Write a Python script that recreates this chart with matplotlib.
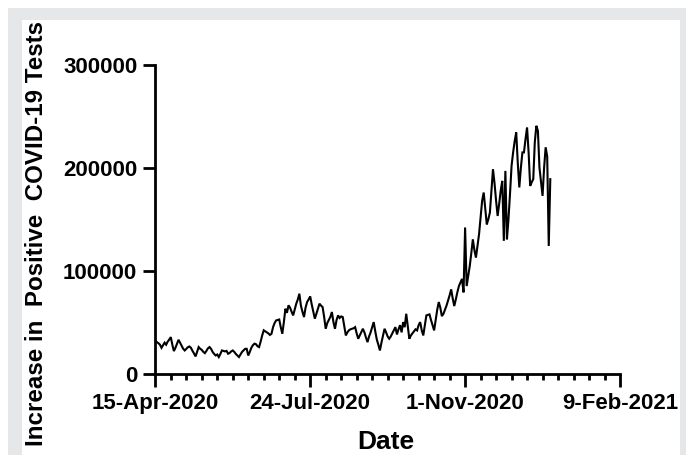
import numpy as np
import pandas as pd
import matplotlib
matplotlib.use("Agg")
import matplotlib.pyplot as plt
import matplotlib.dates as mdates
from matplotlib.ticker import FixedLocator, FixedFormatter
from matplotlib.patches import Rectangle

plt.rcParams['font.family'] = ['Liberation Sans', 'DejaVu Sans']
plt.rcParams['font.weight'] = 'bold'

# daily increase in positive tests, 15-Apr-2020 onwards
start_date = "2020-04-15"
positive_increase = [
    32000, 30500, 29500, 28000, 25000, 27500, 30000, 28000, 31000, 33000,
    35400, 28000, 21800, 25000, 29000, 32800, 30000, 27000, 24000, 22400,
    24000, 25500, 26300, 25000, 22000, 19500, 16600, 21000, 25700, 24000,
    23000, 21000, 19800, 22000, 24500, 25700, 24000, 21000, 19000, 17500,
    18500, 16000, 19000, 22400, 22000, 21500, 22000, 19200, 20000, 21500,
    22400, 21000, 19000, 17500, 16000, 18500, 21000, 22500, 24000, 24000,
    17500, 21000, 25000, 27500, 29000, 28500, 26500, 25700, 31000, 37000,
    42000, 41000, 40000, 39000, 37500, 38600, 45000, 49000, 51600, 52000,
    52500, 45000, 38600, 50000, 63000, 59000, 66300, 64000, 60000, 56500,
    62000, 67900, 72000, 77600, 66000, 60000, 54900, 64000, 69500, 72000,
    75000, 67000, 60000, 53300, 58000, 63000, 67900, 66000, 64600, 55000,
    43500, 49000, 52000, 55000, 59800, 50000, 43500, 52000, 56500, 54000,
    55500, 54900, 46000, 37000, 40000, 42000, 43000, 43500, 44000, 45100,
    39000, 33800, 37000, 40000, 43500, 40000, 35000, 30500, 36000, 40000,
    45000, 50000, 41000, 33000, 28000, 22400, 30000, 37000, 43500, 40000,
    36000, 33800, 36000, 39000, 42000, 45100, 38000, 43000, 47000, 40000,
    50000, 45000, 58100, 46000, 33800, 37000, 39000, 41000, 43000, 41900,
    47000, 50000, 42000, 37000, 47000, 56500, 57000, 57500, 52000, 47000,
    41900, 52000, 62000, 69500, 64000, 55800, 58000, 62000, 66000, 71000,
    76000, 81800, 73000, 65600, 72000, 79000, 85000, 88600, 92000, 78900,
    142000, 85000, 95000, 104500, 117000, 130500, 120000, 112700, 124000, 135400,
    152000, 168000, 176000, 160000, 145000, 150000, 156500, 178000, 198700, 185000,
    168000, 153200, 165000, 178000, 187300, 129000, 197000, 130500, 150000, 175000,
    202000, 215000, 226000, 234400, 205000, 180900, 200000, 215000, 215000, 228000,
    239300, 215000, 182400, 186000, 189000, 225000, 240900, 236000, 200300, 186000,
    172700, 200000, 220000, 211000, 124000, 189000,
]

tick_dates = ["2020-04-15", "2020-07-24", "2020-11-01", "2021-02-09"]
tick_labels = ["15-Apr-2020", "24-Jul-2020", "1-Nov-2020", "9-Feb-2021"]
y_ticks = [0, 100000, 200000, 300000]

dates = pd.date_range(start_date, periods=len(positive_increase), freq="D")

fig = plt.figure(figsize=(6.86, 4.55), dpi=100)
fig.patch.set_facecolor("white")

# grey frame with a white panel on top of it
W, H = 686, 455
fig.patches.append(Rectangle((8 / W, 0), 1, (H - 8) / H, transform=fig.transFigure,
                             facecolor="#e6e7e9", edgecolor="none", zorder=-3))
fig.patches.append(Rectangle((22 / W, 0), (680 - 22) / W, (H - 20) / H,
                             transform=fig.transFigure,
                             facecolor="white", edgecolor="none", zorder=-2))

ax = fig.add_axes([155.3 / W, 1 - 373.5 / H, (620 - 155.3) / W, (373.5 - 65) / H])
ax.patch.set_alpha(0)

ax.plot(dates, positive_increase, color="black", lw=1.5, solid_joinstyle="miter")

tick_nums = mdates.date2num(pd.to_datetime(tick_dates))
ax.set_xlim(tick_nums[0], tick_nums[-1])
ax.set_ylim(0, 300000)

ax.xaxis.set_major_locator(FixedLocator(tick_nums))
ax.xaxis.set_major_formatter(FixedFormatter(tick_labels))
ax.xaxis.set_minor_locator(FixedLocator(np.arange(tick_nums[0], tick_nums[-1] + 1, 10)))
ax.set_yticks(y_ticks)
ax.set_yticklabels([str(v) for v in y_ticks])

for side in ("top", "right"):
    ax.spines[side].set_visible(False)
for side in ("left", "bottom"):
    ax.spines[side].set_linewidth(2.0)
    ax.spines[side].set_capstyle("projecting")

ax.tick_params(axis="x", which="major", length=9, width=2.0, direction="out",
               labelsize=16, pad=5)
ax.tick_params(axis="x", which="minor", length=4, width=2.0, direction="out")
ax.tick_params(axis="y", which="major", length=9, width=2.0, direction="out",
               labelsize=16, pad=4)

fig.text(37 / W, 1 - 233 / H, "Increase in  Positive  COVID-19 Tests",
         rotation=90, ha="center", va="center", fontsize=17.4, fontweight="bold")
fig.text(386 / W, 1 - 442 / H, "Date", ha="center", va="center",
         fontsize=19, fontweight="bold")

fig.savefig("out.png", dpi=100)
